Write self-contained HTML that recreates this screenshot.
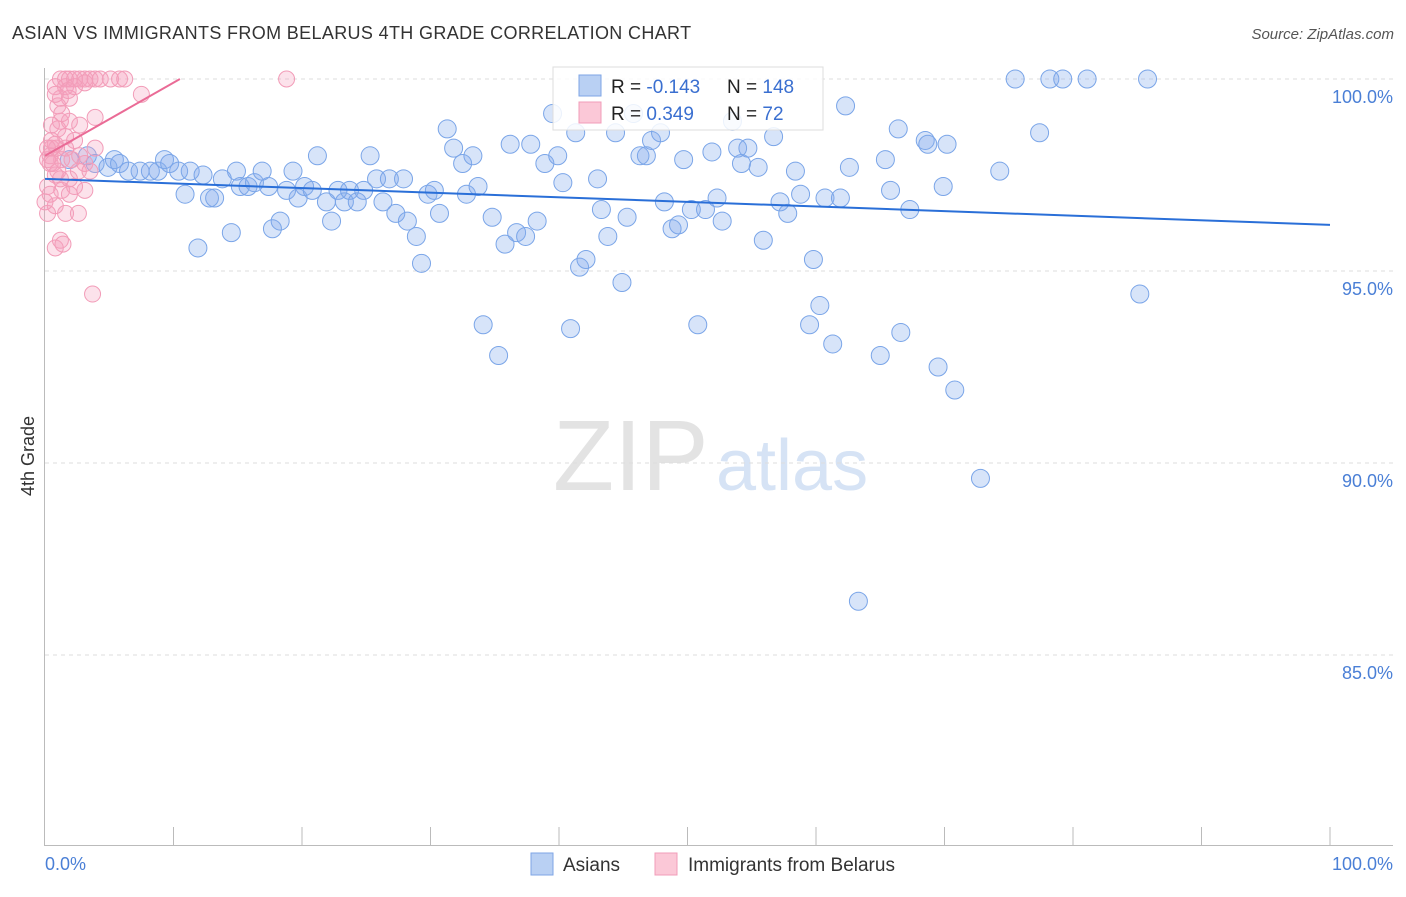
<!DOCTYPE html>
<html><head><meta charset="utf-8"><style>
body{margin:0;background:#fff;font-family:"Liberation Sans",sans-serif;}
svg text{font-family:"Liberation Sans",sans-serif;}
</style></head><body>
<svg id="chart" width="1406" height="892" viewBox="0 0 1406 892" xmlns="http://www.w3.org/2000/svg">
<text x="12" y="39" font-size="18" fill="#333" letter-spacing="0.35">ASIAN VS IMMIGRANTS FROM BELARUS 4TH GRADE CORRELATION CHART</text>
<text x="1394" y="39" font-size="15" fill="#555" font-style="italic" text-anchor="end">Source: ZipAtlas.com</text>
<g>
<text x="553" y="490" font-size="100" font-family="Liberation Serif,serif" fill="#e3e3e3">ZIP</text>
<text x="716" y="490" font-size="72" fill="#d6e3f5">atlas</text>
</g>
<g id="grid"></g><g id="axes"></g><g id="pts"></g><g id="trend"></g>
<text transform="translate(34,456) rotate(-90)" font-size="18" fill="#333" text-anchor="middle">4th Grade</text>
<text x="45" y="870" font-size="18" fill="#4a7fd6">0.0%</text>
<text x="1393" y="870" font-size="18" fill="#4a7fd6" text-anchor="end">100.0%</text>
<g>
<rect x="553" y="67" width="270" height="63" fill="#fff" fill-opacity="0.85" stroke="#ddd"/>
<rect x="579" y="75" width="22" height="21" fill="#b9d0f3" stroke="#7ea5e6"/>
<rect x="579" y="102" width="22" height="21" fill="#fbc8d7" stroke="#f29cb8"/>
<text x="611" y="93" font-size="19" fill="#222">R = <tspan fill="#3a6fd0">-0.143</tspan></text>
<text x="727" y="93" font-size="19" fill="#222">N = <tspan fill="#3a6fd0">148</tspan></text>
<text x="611" y="120" font-size="19" fill="#222">R = <tspan fill="#3a6fd0"> 0.349</tspan></text>
<text x="727" y="120" font-size="19" fill="#222">N = <tspan fill="#3a6fd0"> 72</tspan></text>
</g>
<g>
<rect x="531" y="853" width="22" height="22" fill="#b9d0f3" stroke="#7ea5e6"/>
<text x="563" y="871" font-size="19" fill="#333">Asians</text></g>
<g>
<rect x="655" y="853" width="22" height="22" fill="#fbc8d7" stroke="#f29cb8"/>
<text x="688" y="871" font-size="19" fill="#333">Immigrants from Belarus</text></g>
</svg>
<script>
const yTicks=[100,95,90,85];
const yTickLabels=["100.0%","95.0%","90.0%","85.0%"];
const blueX=[1.9,3.3,3.9,4.9,5.4,5.8,6.5,7.4,8.2,8.8,9.3,9.7,10.4,10.9,11.3,11.9,12.3,12.8,13.2,13.8,14.5,14.9,15.2,15.8,16.3,16.9,17.4,17.7,18.3,18.8,19.3,19.7,20.2,20.8,21.2,21.9,22.3,22.8,23.3,23.7,24.3,24.8,25.3,25.8,26.3,26.8,27.3,27.9,28.2,28.9,29.3,29.8,30.3,30.7,31.3,31.8,32.5,32.8,33.3,33.7,34.1,34.8,35.3,35.8,36.2,36.7,37.4,37.8,38.3,38.9,39.5,39.9,40.3,40.9,41.3,41.6,42.1,43.0,43.3,43.8,44.4,44.9,45.3,45.8,46.3,46.8,47.2,47.9,48.2,48.8,49.3,49.7,50.3,50.8,51.4,51.9,52.3,52.7,53.5,53.9,54.2,54.7,55.5,55.9,56.7,57.2,57.8,58.4,58.8,59.5,59.8,60.3,60.7,61.3,61.9,62.3,62.6,63.3,65.0,65.4,65.8,66.4,66.6,67.3,68.5,68.7,69.5,69.9,70.2,70.8,72.8,74.3,75.5,77.4,78.2,79.2,81.1,85.2,85.8];
const blueY=[97.9,98.0,97.8,97.7,97.9,97.8,97.6,97.6,97.6,97.6,97.9,97.8,97.6,97.0,97.6,95.6,97.5,96.9,96.9,97.4,96.0,97.6,97.2,97.2,97.3,97.6,97.2,96.1,96.3,97.1,97.6,96.9,97.2,97.1,98.0,96.8,96.3,97.1,96.8,97.1,96.8,97.1,98.0,97.4,96.8,97.4,96.5,97.4,96.3,95.9,95.2,97.0,97.1,96.5,98.7,98.2,97.8,97.0,98.0,97.2,93.6,96.4,92.8,95.7,98.3,96.0,95.9,98.3,96.3,97.8,99.1,98.0,97.3,93.5,98.6,95.1,95.3,97.4,96.6,95.9,98.6,94.7,96.4,99.1,98.0,98.0,98.4,98.6,96.8,96.1,96.2,97.9,96.6,93.6,96.6,98.1,96.9,96.3,98.9,98.2,97.8,98.2,97.7,95.8,98.5,96.8,96.5,97.6,97.0,93.6,95.3,94.1,96.9,93.1,96.9,99.3,97.7,86.4,92.8,97.9,97.1,98.7,93.4,96.6,98.4,98.3,92.5,97.2,98.3,91.9,89.6,97.6,100,98.6,100,100,100,94.4,100];
const pinkX=[1.2,1.6,1.9,2.3,2.7,3.1,3.5,3.9,4.3,5.1,5.8,6.2,18.8,7.5,0.8,1.6,1.9,1.0,1.2,1.9,2.7,3.9,0.5,0.9,1.3,0.4,0.8,0.2,1.3,3.1,0.8,1.6,2.6,0.2,1.2,0.8,1.4,3.7,0.4,0.2,0.5,1.0,2.3,1.6,2.1,2.6,3.1,0.4,1.9,1.2,1.8,3.1,1.0,0.6,1.6,0.8,0.5,1.3,0.2,1.2,1.9,0,2.3,3.5,2.7,3.9,0.8,2.3];
const pinkY=[100,100,100,100,100,100,100,100,100,100,100,100,100,99.6,99.8,99.8,99.5,99.3,98.9,98.9,98.8,99.0,98.4,98.2,97.9,97.8,97.5,97.2,97.1,97.1,96.7,96.5,96.5,96.5,95.8,95.6,95.7,94.4,98.0,97.9,98.2,98.7,98.4,98.5,97.9,97.6,97.8,97.0,97.4,99.5,99.7,99.9,97.6,97.8,98.2,98.3,98.8,99.1,98.2,97.4,97.0,96.8,97.2,97.6,98.0,98.2,99.6,99.8];
const blueTrend=[97.4,96.2];
const pinkTrend=[98.0,100];
const NS="http://www.w3.org/2000/svg";
const X=v=>45+v*12.85, Y=v=>79+(100-v)*38.4;
function mk(t,a,p){const e=document.createElementNS(NS,t);for(const k in a)e.setAttribute(k,a[k]);document.getElementById(p).appendChild(e);return e;}
yTicks.forEach((t,i)=>{
 const g=mk('line',{x1:45,x2:1393,y1:Y(t),y2:Y(t),stroke:'#ddd','stroke-dasharray':'4,4'},'grid');
 
 
 const l=mk('text',{x:1393,y:Y(t)+24,'font-size':18,fill:'#4a7fd6','text-anchor':'end'},'grid');
 l.textContent=yTickLabels[i];
 
 
});
const ax=mk('line',{x1:44.5,x2:44.5,y1:68,y2:845,stroke:'#bbb'},'axes');


const bx=mk('line',{x1:44,x2:1393,y1:845.5,y2:845.5,stroke:'#bbb'},'axes');


for(let k=1;k<=10;k++){const t=mk('line',{x1:X(k*10),x2:X(k*10),y1:827,y2:845,stroke:'#bbb'},'axes');
 
 }
blueX.forEach((x,i)=>{const c=mk('circle',{cx:X(x),cy:Y(blueY[i]),r:9,fill:'rgba(130,170,235,0.32)',stroke:'#7aa5e8','stroke-width':1},'pts');
 
 });
pinkX.forEach((x,i)=>{const c=mk('circle',{cx:X(x),cy:Y(pinkY[i]),r:8,fill:'rgba(245,160,190,0.3)',stroke:'#f29cb8','stroke-width':1},'pts');
 
 });
const bt=mk('line',{x1:X(0),y1:Y(blueTrend[0]),x2:X(100),y2:Y(blueTrend[1]),stroke:'#2a6fd8','stroke-width':2},'trend');


const pt=mk('line',{x1:X(0),y1:Y(pinkTrend[0]),x2:X(10.5),y2:Y(pinkTrend[1]),stroke:'#ea6b96','stroke-width':2},'trend');


</script>
</body></html>
